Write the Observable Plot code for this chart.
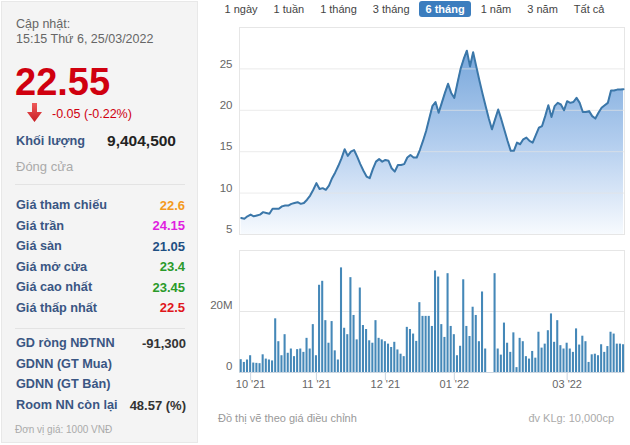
<!DOCTYPE html>
<html><head><meta charset="utf-8">
<script src="https://cdn.jsdelivr.net/npm/d3@7"></script>
<script src="https://cdn.jsdelivr.net/npm/@observablehq/plot@0.6"></script>
<style>
html,body{margin:0;padding:0;background:#fff;}
#root{position:relative;width:630px;height:445px;overflow:hidden;font-family:"Liberation Sans",Arial,sans-serif;}
.t{position:absolute;white-space:nowrap;line-height:1;}
.chart{position:absolute;left:200px;}
#tabs{position:absolute;left:218px;top:1px;display:flex;gap:3px;font-size:11px;}
#tabs div{padding:0 6.5px;height:16px;line-height:16px;color:#444;border-radius:3px;white-space:nowrap;}
#tabs div.active{background:#3b7dbe;color:#fff;font-weight:bold;}
</style></head><body><div id="root"></div>
<script>
// ---------- data ----------
const prices = [
7.0, 6.9, 7.2, 7.4, 7.2, 7.3, 7.4, 7.7, 7.6, 7.5,
8.1, 8.1, 8.1, 8.4, 8.5, 8.5, 8.7, 8.8, 8.9, 8.7,
8.8, 9.2, 9.7, 10.4, 11.2, 10.5, 10.6, 10.4, 10.9, 11.8,
12.5, 13.3, 14.2, 15.3, 14.5, 15.0, 15.2, 14.4, 13.5, 12.7,
12.0, 11.8, 12.9, 13.8, 14.1, 13.8, 14.0, 13.9, 13.0, 12.6,
13.4, 13.4, 13.5, 14.3, 14.6, 14.3, 14.3, 15.2, 16.3, 17.5,
19.0, 20.5, 21.0, 19.7, 20.9, 22.1, 23.2, 22.1, 21.5, 23.3,
25.0, 26.2, 27.2, 25.3, 27.0, 25.3, 23.6, 22.0, 20.5, 19.0,
17.7, 18.9, 20.1, 18.9, 17.6, 16.3, 15.1, 15.1, 16.1, 15.9,
16.5, 16.7, 16.3, 16.1, 17.0, 17.9, 18.1, 19.3, 20.6, 19.2,
20.5, 20.9, 20.7, 20.0, 21.1, 20.9, 21.0, 21.5, 20.9, 19.8,
19.8, 19.9, 19.3, 19.0, 19.7, 20.3, 20.6, 20.9, 22.4, 22.4,
22.5, 22.5, 22.55
];
// volume in millions of shares
const volumes = [
4.2, 3.3, 4.1, 5.5, 3.1, 3.0, 2.9, 5.8, 4.4, 4.1,
3.8, 17.6, 10.1, 5.5, 12.4, 6.3, 7.7, 5.2, 7.5, 7.7,
6.6, 11.2, 7.7, 15.7, 5.5, 28.6, 29.9, 17.0, 9.6, 16.7,
7.1, 4.1, 34.3, 14.5, 12.4, 31.1, 18.7, 10.7, 27.7, 15.4,
14.1, 10.4, 9.6, 17.0, 11.2, 10.7, 10.1, 9.3, 8.2, 9.9,
7.4, 6.0, 5.2, 14.8, 14.1, 12.6, 10.2, 22.9, 18.4, 18.4,
18.4, 15.1, 33.3, 31.3, 15.7, 11.5, 32.4, 15.1, 12.4, 5.5,
8.6, 30.4, 15.1, 11.8, 21.4, 18.7, 10.1, 26.4, 7.7, 0,
0, 32.4, 7.7, 5.7, 16.2, 9.6, 6.6, 13.0, 1.6, 11.2,
10.1, 5.2, 4.4, 6.9, 4.7, 13.2, 8.0, 9.3, 13.7, 19.2,
9.9, 17.0, 8.8, 7.7, 9.6, 7.7, 6.6, 14.3, 9.0, 11.9,
10.1, 3.3, 5.8, 6.0, 5.5, 9.1, 6.6, 8.5, 13.2, 12.6,
9.3, 9.3, 9.1
];
const priceTicks = [5, 10, 15, 20, 25];
const volumeTicks = [0, 20];
const monthTickIndex = [3, 24, 46, 68, 104];
const monthLabels = ["10 '21", "11 '21", "12 '21", "01 '22", "03 '22"];
const tabs = ["1 ngày", "1 tuần", "1 tháng", "3 tháng", "6 tháng", "1 năm", "3 năm", "Tất cả"];
const activeTab = "6 tháng";

const updateLabel = "Cập nhật:";
const updateTime = "15:15 Thứ 6, 25/03/2022";
const lastPrice = "22.55";
const change = "-0.05 (-0.22%)";
const volumeLabel = "Khối lượng";
const volumeValue = "9,404,500";
const statusLabel = "Đóng cửa";
const infoLabels = ["Giá tham chiếu", "Giá trần", "Giá sàn", "Giá mở cửa", "Giá cao nhất", "Giá thấp nhất"];
const infoValues = ["22.6", "24.15", "21.05", "23.4", "23.45", "22.5"];
const foreignLabels = ["GD ròng NĐTNN", "GDNN (GT Mua)", "GDNN (GT Bán)", "Room NN còn lại"];
const foreignValues = ["-91,300", "", "", "48.57 (%)"];
const unitNote = "Đơn vị giá: 1000 VNĐ";
const noteLeft = "Đồ thị vẽ theo giá điều chỉnh";
const noteRight = "đv KLg: 10,000cp";

// ---------- styles ----------
const infoColors = ["#f39a1e", "#e01ee0", "#1f4f82", "#2a9a2a", "#2a9a2a", "#e0161c"];
const labelColor = "#3a5683";
const FONT = "'Liberation Sans', Arial, sans-serif";

const root = document.getElementById("root");

// left panel background
const panel = document.createElement("div");
Object.assign(panel.style, {position:"absolute", left:"1px", top:"1px", width:"197px", height:"442px",
  background:"#f4f4f4", border:"1px solid #e8e8e8", boxSizing:"border-box"});
root.appendChild(panel);

function txt(str, x, base, size, opts = {}) {
  const d = document.createElement("div");
  d.className = "t";
  d.textContent = str;
  d.style.fontSize = size + "px";
  d.style.top = (base - 0.8465 * size) + "px";
  if (opts.anchor === "end") d.style.right = (630 - x) + "px"; else d.style.left = x + "px";
  d.style.color = opts.color || "#333";
  if (opts.bold) d.style.fontWeight = "bold";
  root.appendChild(d);
}
function hline(y) {
  const d = document.createElement("div");
  Object.assign(d.style, {position:"absolute", left:"15px", width:"170px", top:y + "px", height:"1px", background:"#e3e3e3"});
  root.appendChild(d);
}

txt(updateLabel, 16, 29, 12.5, {color:"#666"});
txt(updateTime, 16, 44, 12.5, {color:"#666"});
txt(lastPrice, 15, 95, 38, {color:"#d0000f", bold:true});
const arrow = document.createElementNS("http://www.w3.org/2000/svg", "svg");
arrow.setAttribute("width", "18"); arrow.setAttribute("height", "22");
Object.assign(arrow.style, {position:"absolute", left:"25px", top:"102px"});
arrow.innerHTML = '<defs><linearGradient id="ag" x1="0" y1="0" x2="0" y2="1"><stop offset="0" stop-color="#ee5a5a"/><stop offset="1" stop-color="#c81e24"/></linearGradient></defs><path d="M7 1 H12 V10 H17 L9.5 20 L2 10 H7 Z" fill="url(#ag)"/>';
root.appendChild(arrow);
txt(change, 52, 119, 12.5, {color:"#d0000f"});
txt(volumeLabel, 16, 146, 12.7, {color:labelColor, bold:true});
txt(volumeValue, 176, 146, 15.5, {color:"#222", bold:true, anchor:"end"});
txt(statusLabel, 16, 171, 13, {color:"#aaa"});
hline(184);
infoLabels.forEach((l, i) => {
  const b = 210 + i * 20.5;
  txt(l, 16, b, 12.7, {color:labelColor, bold:true});
  txt(infoValues[i], 185, b, 13, {color:infoColors[i], bold:true, anchor:"end"});
});
hline(328);
foreignLabels.forEach((l, i) => {
  const b = 348 + i * 20.6;
  txt(l, 16, b, 12.7, {color:labelColor, bold:true});
  if (foreignValues[i]) txt(foreignValues[i], 186, b, 13, {color:"#333", bold:true, anchor:"end"});
});
txt(unitNote, 15, 433, 10, {color:"#aaa"});

// tabs
const tabBox = document.createElement("div");
tabBox.id = "tabs";
tabs.forEach(t => {
  const d = document.createElement("div");
  d.textContent = t;
  if (t === activeTab) d.className = "active";
  tabBox.appendChild(d);
});
root.appendChild(tabBox);

// ---------- charts ----------
const priceData = prices.map((p, i) => ({i, p}));
const volData = volumes.map((v, i) => ({i, v}));
const xDomain = [-0.55, 122.3];

const gradDefs = () => {
  const ns = "http://www.w3.org/2000/svg";
  const defs = document.createElementNS(ns, "defs");
  const lg = document.createElementNS(ns, "linearGradient");
  lg.setAttribute("id", "priceGrad");
  lg.setAttribute("x1", "0"); lg.setAttribute("y1", "0"); lg.setAttribute("x2", "0"); lg.setAttribute("y2", "1");
  [[0, "#78a7db"], [0.5, "#b2cdee"], [1, "#f7fafe"]].forEach(([o, c]) => {
    const s = document.createElementNS(ns, "stop");
    s.setAttribute("offset", o); s.setAttribute("stop-color", c);
    lg.appendChild(s);
  });
  defs.appendChild(lg);
  return defs;
};

const priceChart = Plot.plot({
  width: 430, height: 220, marginLeft: 39, marginRight: 6, marginTop: 7, marginBottom: 6,
  style: {fontFamily: FONT, background: "transparent", overflow: "visible"},
  x: {domain: xDomain, axis: null},
  y: {domain: [5, 30], axis: null},
  marks: [
    gradDefs,
    Plot.areaY(priceData, {x: "i", y1: 5, y2: "p", fill: "url(#priceGrad)"}),
    Plot.ruleY(priceTicks, {stroke: "#e2e2e2", strokeOpacity: 0.7}),
    Plot.frame({stroke: "#e6e6e6"}),
    Plot.lineY(priceData, {x: "i", y: "p", stroke: "#3b77a9", strokeWidth: 2, strokeLinejoin: "round"}),
    Plot.text(priceTicks, {y: d => d, text: d => String(d), frameAnchor: "left", textAnchor: "end", dx: -7, dy: -5, fill: "#666", fontSize: 11.5})
  ]
});
priceChart.classList.add("chart");
priceChart.style.top = "20px";
root.appendChild(priceChart);

const volChart = Plot.plot({
  width: 430, height: 160, marginLeft: 39, marginRight: 6, marginTop: 10, marginBottom: 28,
  style: {fontFamily: FONT, background: "transparent", overflow: "visible"},
  x: {domain: xDomain, axis: null},
  y: {domain: [0, 40], axis: null},
  marks: [
    Plot.ruleY(volumeTicks.filter(d => d > 0), {stroke: "#e6e6e6"}),
    Plot.frame({stroke: "#e6e6e6"}),
    Plot.rectY(volData, {x1: d => d.i - 0.33, x2: d => d.i + 0.33, y1: 0, y2: "v", fill: "#4588b8"}),
    Plot.ruleY([0], {stroke: "#ccd6e0"}),
    Plot.ruleX(monthTickIndex, {x: d => d, y1: 0, y2: -2.7, stroke: "#ccd6e0"}),
    Plot.text(monthTickIndex, {x: d => d, text: (d, i) => monthLabels[i], frameAnchor: "bottom", dy: 15, fill: "#666", fontSize: 11}),
    Plot.text(volumeTicks, {y: d => d, text: d => d === 0 ? "0" : d + "M", frameAnchor: "left", textAnchor: "end", dx: -7, dy: -6, fill: "#666", fontSize: 11.5})
  ]
});
volChart.classList.add("chart");
volChart.style.top = "240px";
root.appendChild(volChart);

txt(noteLeft, 218, 422, 11, {color:"#999"});
txt(noteRight, 614, 422, 11, {color:"#aaa", anchor:"end"});
</script></body></html>
